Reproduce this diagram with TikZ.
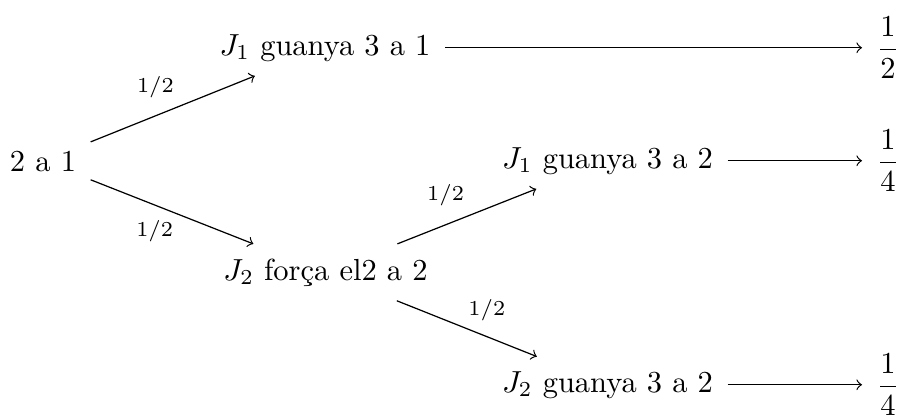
\documentclass[tikz,border=0pt]{standalone}
\usepackage{amsmath}
\begin{document}
\begin{tikzpicture}[x=0.328pt,y=-0.328pt,
  state/.style={inner sep=4.6pt, anchor=base},
  prob/.style={inner sep=4.6pt, anchor=west},
  lbl/.style={font=\scriptsize, inner sep=3.33pt},
  arr/.style={->}]
\useasboundingbox (0,0) rectangle (900,417);
% game states
\node[state] (root) at (43,171) {2 a 1};
\node[state] (j1a) at (325,55) {$J_1$ guanya 3 a 1};
\node[state] (j2f) at (325.5,280) {$J_2$ força el2 a 2};
\node[state] (j1b) at (607.5,168) {$J_1$ guanya 3 a 2};
\node[state] (j2b) at (607.5,392) {$J_2$ guanya 3 a 2};
% final probabilities
\coordinate (fx) at (862,0);
\node[prob] (f1) at (j1a -| fx) {$\dfrac{1}{2}$};
\node[prob] (f2) at (j1b -| fx) {$\dfrac{1}{4}$};
\node[prob] (f3) at (j2b -| fx) {$\dfrac{1}{4}$};
% branches
\draw[arr] (root) -- node[lbl, above left, xshift=3.9pt] {$1/2$} (j1a);
\draw[arr] (root) -- node[lbl, below left, xshift=3.9pt, yshift=0.6pt] {$1/2$} (j2f);
\draw[arr] (j2f) -- node[lbl, above left, xshift=2.6pt] {$1/2$} (j1b);
\draw[arr] (j2f) -- node[lbl, above right, xshift=-3pt, yshift=-1pt] {$1/2$} (j2b);
\draw[arr] (j1a) -- (f1);
\draw[arr] (j1b) -- (f2);
\draw[arr] (j2b) -- (f3);
\end{tikzpicture}
\end{document}
